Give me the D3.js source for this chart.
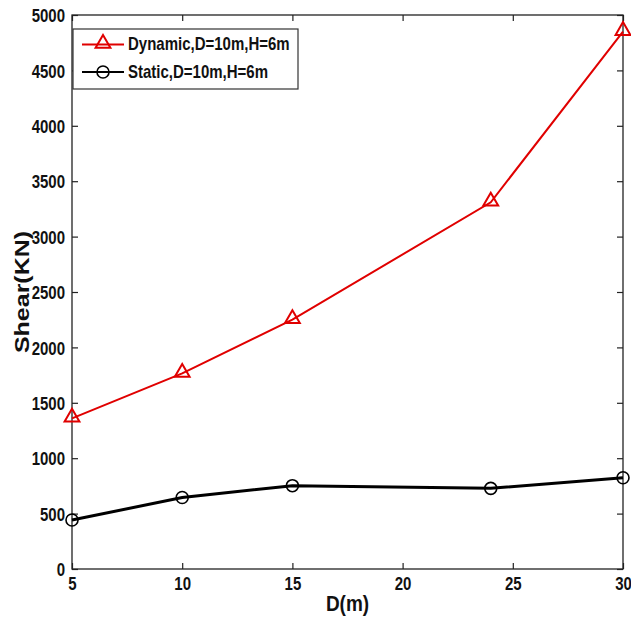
<!DOCTYPE html>
<html><head><meta charset="utf-8">
<script src="https://cdn.jsdelivr.net/npm/d3@7"></script>
<style>body{margin:0;background:#fff}</style>
</head><body>
<svg id="c" width="631" height="628"></svg>
<script>
const dValues = [5, 10, 15, 24, 30];
const dynamicShear = [1360, 1765, 2250, 3310, 4850];
const staticShear = [442, 645, 752, 728, 824];
const seriesNames = ["Dynamic,D=10m,H=6m", "Static,D=10m,H=6m"];
const xTicks = [5, 10, 15, 20, 25, 30];
const yTicks = [0, 500, 1000, 1500, 2000, 2500, 3000, 3500, 4000, 4500, 5000];

const svg = d3.select("#c");
const L = 72, R = 623, T = 15, B = 569;
const x = d3.scaleLinear().domain([5, 30]).range([L, R]);
const y = d3.scaleLinear().domain([0, 5000]).range([B, T]);
const font = "'Liberation Sans', Arial, sans-serif";
const SY = 1.25;

function stretchText(sel, sy) {
  sel.each(function() {
    const t = d3.select(this);
    const tx = +t.attr("x") || 0, ty = +t.attr("y") || 0;
    t.attr("x", 0).attr("y", 0).attr("transform", `translate(${tx},${ty}) scale(1,${sy})`);
  });
}

// axes
const gx = svg.append("g").attr("transform", `translate(0,${B})`)
  .call(d3.axisBottom(x).tickValues(xTicks).tickSizeInner(-6).tickSizeOuter(0).tickPadding(0).tickFormat(d3.format("d")));
const gxT = svg.append("g").attr("transform", `translate(0,${T})`)
  .call(d3.axisTop(x).tickValues(xTicks).tickSizeInner(-6).tickSizeOuter(0).tickFormat(""));
const gy = svg.append("g").attr("transform", `translate(${L},0)`)
  .call(d3.axisLeft(y).tickValues(yTicks).tickSizeInner(-6).tickSizeOuter(0).tickPadding(0).tickFormat(d3.format("d")));
const gyR = svg.append("g").attr("transform", `translate(${R},0)`)
  .call(d3.axisRight(y).tickValues(yTicks).tickSizeInner(-6).tickSizeOuter(0).tickFormat(""));
[gx, gxT, gy, gyR].forEach(g => {
  g.select(".domain").remove();
  g.selectAll(".tick line").attr("stroke", "#222").attr("stroke-width", 1.2);
});
gx.selectAll(".tick text").attr("font-family", font).attr("font-weight", "bold").attr("font-size", 15)
  .attr("fill", "#111").attr("y", 8).attr("dy", "0.71em");
stretchText(gx.selectAll(".tick text"), SY);
gy.selectAll(".tick text").attr("font-family", font).attr("font-weight", "bold").attr("font-size", 15)
  .attr("fill", "#111").attr("x", -7).attr("dy", "0.36em");
stretchText(gy.selectAll(".tick text"), SY);
svg.append("rect").attr("x", L).attr("y", T).attr("width", R - L).attr("height", B - T)
  .attr("fill", "none").attr("stroke", "#222").attr("stroke-width", 1.3);

// axis labels
svg.append("text").attr("transform", `translate(${(L + R) / 2},${611}) scale(1,1.2)`)
  .attr("text-anchor", "middle").attr("font-family", font).attr("font-weight", "bold")
  .attr("font-size", 19).attr("fill", "#111").text("D(m)");
svg.append("text").attr("transform", `translate(${29},${(T + B) / 2}) scale(1,1.25) rotate(-90)`)
  .attr("text-anchor", "middle").attr("font-family", font).attr("font-weight", "bold")
  .attr("font-size", 20).attr("fill", "#111").text("Shear(KN)");

const line = d3.line().x(d => x(d[0])).y(d => y(d[1]));
const dynData = dValues.map((d, i) => [d, dynamicShear[i]]);
const staData = dValues.map((d, i) => [d, staticShear[i]]);

const tri = d3.symbol().type(d3.symbolTriangle).size(95);

svg.append("path").datum(staData).attr("d", line).attr("fill", "none").attr("stroke", "#000").attr("stroke-width", 3);
svg.selectAll(".sc").data(staData).join("circle").attr("cx", d => x(d[0])).attr("cy", d => y(d[1]))
  .attr("r", 6).attr("fill", "none").attr("stroke", "#000").attr("stroke-width", 1.6);

svg.append("path").datum(dynData).attr("d", line).attr("fill", "none").attr("stroke", "#e00000").attr("stroke-width", 2);
svg.selectAll(".dt").data(dynData).join("path").attr("d", tri)
  .attr("transform", d => `translate(${x(d[0])},${y(d[1]) - 1})`)
  .attr("fill", "none").attr("stroke", "#e00000").attr("stroke-width", 2);

// legend
const lg = svg.append("g");
lg.append("rect").attr("x", 73).attr("y", 29).attr("width", 225).attr("height", 60)
  .attr("fill", "#fff").attr("stroke", "#333").attr("stroke-width", 1.2);
const items = [
  {name: seriesNames[0], color: "#e00000", w: 2, mk: "tri", yy: 44.5},
  {name: seriesNames[1], color: "#000", w: 2, mk: "circ", yy: 72}
];
items.forEach(it => {
  lg.append("line").attr("x1", 82).attr("x2", 124).attr("y1", it.yy).attr("y2", it.yy)
    .attr("stroke", it.color).attr("stroke-width", it.w);
  if (it.mk === "tri") lg.append("path").attr("d", tri).attr("transform", `translate(103,${it.yy - 1})`)
    .attr("fill", "none").attr("stroke", it.color).attr("stroke-width", 2);
  else lg.append("circle").attr("cx", 103).attr("cy", it.yy).attr("r", 6)
    .attr("fill", "none").attr("stroke", it.color).attr("stroke-width", 1.6);
  lg.append("text").attr("transform", `translate(128,${it.yy + 5.5}) scale(1,${SY})`)
    .attr("font-family", font).attr("font-weight", "bold").attr("font-size", 15)
    .attr("fill", "#111").text(it.name);
});
</script>
</body></html>
